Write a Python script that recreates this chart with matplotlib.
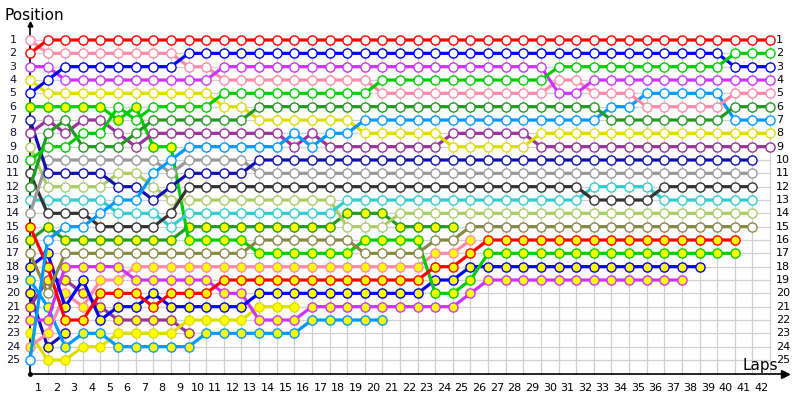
import matplotlib
matplotlib.use("Agg")
import matplotlib.pyplot as plt

# ---------------- data: position per lap (index 0 = grid, 1..n = laps) ----------------
red_w = [2, 1, 1, 1, 1, 1, 1, 1, 1, 1,
         1, 1, 1, 1, 1, 1, 1, 1, 1, 1,
         1, 1, 1, 1, 1, 1, 1, 1, 1, 1,
         1, 1, 1, 1, 1, 1, 1, 1, 1, 1,
         1, 1, 1]
pink_w = [1, 2, 2, 2, 2, 2, 2, 2, 2, 3,
          3, 4, 4, 4, 4, 4, 4, 4, 4, 4,
          5, 5, 5, 5, 5, 5, 5, 5, 5, 5,
          4, 4, 5, 5, 5, 6, 6, 6, 6, 6,
          5, 5, 5]
blue_w = [5, 4, 3, 3, 3, 3, 3, 3, 3, 2,
          2, 2, 2, 2, 2, 2, 2, 2, 2, 2,
          2, 2, 2, 2, 2, 2, 2, 2, 2, 2,
          2, 2, 2, 2, 2, 2, 2, 2, 2, 2,
          3, 3, 3]
magenta_w = [3, 3, 4, 4, 4, 4, 4, 4, 4, 4,
             4, 3, 3, 3, 3, 3, 3, 3, 3, 3,
             3, 3, 3, 3, 3, 3, 3, 3, 3, 3,
             5, 5, 4, 4, 4, 4, 4, 4, 4, 4,
             4, 4, 4]
yellow_w = [4, 5, 5, 5, 5, 5, 5, 5, 5, 5,
            5, 6, 6, 7, 7, 7, 7, 7, 7, 8,
            8, 8, 8, 8, 9, 9, 9, 9, 9, 8,
            8, 8, 8, 8, 8, 8, 8, 8, 8, 8,
            8, 8, 8]
green_w = [10, 9, 9, 8, 8, 6, 7, 6, 6, 6,
           6, 5, 5, 5, 5, 5, 5, 5, 5, 5,
           4, 4, 4, 4, 4, 4, 4, 4, 4, 4,
           3, 3, 3, 3, 3, 3, 3, 3, 3, 3,
           2, 2, 2]
dkgreen_w = [12, 8, 7, 9, 9, 9, 8, 7, 7, 7,
             7, 7, 7, 6, 6, 6, 6, 6, 6, 6,
             6, 6, 6, 6, 6, 6, 6, 6, 6, 6,
             6, 6, 6, 7, 7, 7, 7, 7, 7, 7,
             6, 6, 6]
purple_w = [8, 7, 8, 7, 7, 8, 9, 8, 8, 8,
            8, 8, 8, 8, 8, 9, 8, 9, 9, 9,
            9, 9, 9, 9, 8, 8, 8, 8, 8, 9,
            9, 9, 9, 9, 9, 9, 9, 9, 9, 9,
            9, 9, 9]
lightblue_w = [25, 16, 15, 15, 14, 13, 13, 11, 10, 9,
               9, 9, 9, 9, 9, 8, 9, 8, 8, 7,
               7, 7, 7, 7, 7, 7, 7, 7, 7, 7,
               7, 7, 7, 6, 6, 5, 5, 5, 5, 5,
               7, 7, 7]
navy_w = [7, 11, 11, 11, 11, 12, 12, 13, 12, 11,
          11, 11, 11, 10, 10, 10, 10, 10, 10, 10,
          10, 10, 10, 10, 10, 10, 10, 10, 10, 10,
          10, 10, 10, 10, 10, 10, 10, 10, 10, 10,
          10, 10]
gray_w = [14, 10, 10, 10, 10, 10, 10, 10, 11, 10,
          10, 10, 10, 11, 11, 11, 11, 11, 11, 11,
          11, 11, 11, 11, 11, 11, 11, 11, 11, 11,
          11, 11, 11, 11, 11, 11, 11, 11, 11, 11,
          11, 11]
darkgray_w = [11, 14, 14, 14, 15, 15, 15, 15, 14, 12,
              12, 12, 12, 12, 12, 12, 12, 12, 12, 12,
              12, 12, 12, 12, 12, 12, 12, 12, 12, 12,
              12, 12, 13, 13, 13, 13, 12, 12, 12, 12,
              12, 12]
lightgreen_w = [9, 12, 12, 12, 12, 11, 11, 12, 13, 13,
                13, 13, 13, 13, 13, 13, 13, 13, 15, 15,
                15, 14, 14, 14, 14, 14, 14, 14, 14, 14,
                14, 14, 14, 14, 14, 14, 14, 14, 14, 14,
                14, 14]
teal_w = [13, 13, 13, 13, 13, 14, 14, 14, 15, 14,
          14, 14, 14, 14, 14, 14, 14, 14, 13, 13,
          13, 13, 13, 13, 13, 13, 13, 13, 13, 13,
          13, 13, 12, 12, 12, 12, 13, 13, 13, 13,
          13, 13]
olive_w = [17, 20, 17, 17, 17, 17, 17, 17, 17, 17,
           17, 17, 17, 16, 16, 16, 16, 16, 16, 17,
           17, 17, 17, 16, 16, 15, 15, 15, 15, 15,
           15, 15, 15, 15, 15, 15, 15, 15, 15, 15,
           15, 15]
red_y = [15, 18, 22, 22, 20, 20, 20, 21, 20, 20,
         20, 19, 19, 19, 19, 19, 19, 19, 19, 19,
         19, 19, 19, 18, 18, 17, 16, 16, 16, 16,
         16, 16, 16, 16, 16, 16, 16, 16, 16, 16,
         16]
green_y = [6, 6, 6, 6, 6, 7, 6, 9, 9, 16,
           16, 16, 16, 17, 17, 17, 17, 17, 17, 16,
           16, 16, 16, 20, 20, 19, 17, 17, 17, 17,
           17, 17, 17, 17, 17, 17, 17, 17, 17, 17,
           17]
blue_y = [18, 17, 21, 19, 22, 21, 21, 20, 21, 21,
          21, 21, 21, 20, 20, 20, 20, 20, 20, 20,
          20, 20, 20, 19, 19, 18, 18, 18, 18, 18,
          18, 18, 18, 18, 18, 18, 18, 18, 18]
magenta_y = [22, 22, 18, 18, 18, 18, 19, 19, 19, 19,
             19, 20, 20, 22, 22, 22, 21, 21, 21, 21,
             21, 21, 21, 21, 21, 20, 19, 19, 19, 19,
             19, 19, 19, 19, 19, 19, 19, 19]
pink_y = [24, 23, 20, 21, 19, 19, 18, 18, 18, 18,
          18, 18, 18, 18, 18, 18, 18, 18, 18, 18,
          18, 18, 18, 17, 17, 16]
dkgreen_y = [16, 15, 16, 16, 16, 16, 16, 16, 16, 15,
             15, 15, 15, 15, 15, 15, 15, 15, 14, 14,
             14, 15, 15, 15, 15]
lightblue_y = [19, 21, 24, 23, 23, 24, 24, 24, 24, 24,
               23, 23, 23, 23, 23, 23, 22, 22, 22, 22,
               22]
yellow_y = [23, 25, 25, 24, 24, 23, 23, 23, 23, 22,
            22, 22, 22, 21, 21, 21]
purple_y = [21, 19, 19, 20, 21, 22, 22, 22, 22, 23]
navy_y = [20, 24, 23]

# colours
C_RED = "#ff0000"
C_PINK = "#ff8aa8"
C_BLUE = "#0000ff"
C_MAG = "#cc33ff"
C_YEL = "#dddd00"
C_GRN = "#00cc00"
C_DKG = "#229922"
C_PUR = "#993399"
C_LBL = "#0099ff"
C_NAV = "#1010b0"
C_GRY = "#999999"
C_DGY = "#333333"
C_LGR = "#aacc66"
C_TEA = "#33cccc"
C_OLV = "#888844"
WHITE = "#ffffff"
YFILL = "#ffff00"

series = [
    (navy_y, C_NAV, YFILL), (purple_y, C_PUR, YFILL), (yellow_y, C_YEL, YFILL),
    (lightblue_y, C_LBL, YFILL), (dkgreen_y, C_DKG, YFILL), (pink_y, C_PINK, YFILL),
    (magenta_y, C_MAG, YFILL), (blue_y, C_BLUE, YFILL), (green_y, C_GRN, YFILL),
    (red_y, C_RED, YFILL),
    (olive_w, C_OLV, WHITE), (lightgreen_w, C_LGR, WHITE), (teal_w, C_TEA, WHITE),
    (darkgray_w, C_DGY, WHITE), (gray_w, C_GRY, WHITE), (navy_w, C_NAV, WHITE),
    (purple_w, C_PUR, WHITE), (yellow_w, C_YEL, WHITE), (lightblue_w, C_LBL, WHITE),
    (dkgreen_w, C_DKG, WHITE), (pink_w, C_PINK, WHITE), (magenta_w, C_MAG, WHITE),
    (blue_w, C_BLUE, WHITE), (green_w, C_GRN, WHITE), (red_w, C_RED, WHITE),
]

n_laps = 42
n_pos = 25

# ---------------- figure ----------------
fig = plt.figure(figsize=(8, 4), dpi=100)
ax = fig.add_axes([0, 0, 1, 1])
ax.axis("off")

X0, DX = 30.0, 740.0 / 42.0     # pixel of lap 0 and pixel per lap
Y0, DY = 40.0, 320.0 / 24.0     # pixel of position 1 and pixel per position


def lap_of(px):
    return (px - X0) / DX


def pos_of(py):
    return (py - Y0) / DY + 1


ax.set_xlim(lap_of(0), lap_of(800))
ax.set_ylim(pos_of(400), pos_of(0))

bottom = pos_of(374)
top = pos_of(24)

# grid
for lap in range(0, n_laps + 1):
    ax.plot([lap, lap], [1, bottom], color="#cfcfcf", lw=0.9, zorder=1)
for p in range(1, n_pos + 1):
    ax.plot([0, n_laps], [p, p], color="#cfcfcf", lw=0.9, zorder=1)

# axes lines with arrows
ax.plot([0, 0], [bottom, top], color="black", lw=1.2, zorder=2)
ax.plot([0, lap_of(788)], [bottom, bottom], color="black", lw=1.2, zorder=2)
ax.plot([lap_of(785)], [bottom], marker=">", color="black", ms=6, zorder=3)
ax.plot([0], [top], marker="^", color="black", ms=3.5, zorder=3)
ax.plot([0], [bottom], marker="o", color="black", ms=2.5, zorder=3)

# series
for vals, col, fill in series:
    laps = list(range(len(vals)))
    ax.plot(laps, vals, color=col, lw=2.3, solid_capstyle="round",
            marker="o", ms=6.6, mfc=fill, mec=col, mew=1.0, zorder=4)

# tick labels
for lap in range(1, n_laps + 1):
    ax.text(lap - 0.5, pos_of(388), str(lap), ha="center", va="center",
            fontsize=8, color="#000000")
for p in range(1, n_pos + 1):
    ax.text(lap_of(13), p, str(p), ha="center", va="center", fontsize=8,
            color="#101030")
    ax.text(lap_of(776), p, str(p), ha="left", va="center", fontsize=8,
            color="#000000")

ax.text(lap_of(4), pos_of(15), "Position", ha="left", va="center", fontsize=11)
ax.text(lap_of(742), pos_of(365), "Laps", ha="left", va="center", fontsize=11)

fig.savefig("out.png", dpi=100)
